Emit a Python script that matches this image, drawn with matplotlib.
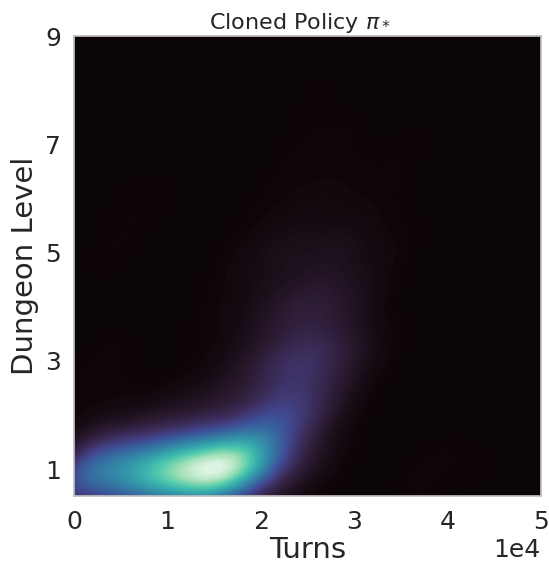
"""Density of dungeon level against turns for the cloned policy."""

import matplotlib

matplotlib.use("Agg")

import matplotlib.pyplot as plt
import seaborn as sns

# Turns, dungeon level and share of games.
turns = [
    500, 3000, 6000, 9000, 11500, 14000, 16000, 18000, 20000, 22000, 25000,
    3000, 10000, 15000, 20000, 23000, 26000,
    3000, 17000, 20500, 23500, 26500, 30000,
    16000, 21000, 25000, 29000,
    4000, 19000, 23000, 28000, 33000,
    5000, 9000, 22000, 27000, 32000,
    24000, 28000, 36000,
    26000,
    38000, 44000,
]
levels = [
    1, 1, 1, 1, 1, 1, 1, 1, 1, 1, 1,
    2, 2, 2, 2, 2, 2,
    3, 3, 3, 3, 3, 3,
    4, 4, 4, 4,
    5, 5, 5, 5, 5,
    6, 6, 6, 6, 6,
    7, 7, 7,
    8,
    1, 1,
]
shares = [
    4.5, 5.5, 7.0, 8.5, 8.5, 9.5, 8.5, 7.0, 4.0, 1.5, 1.0,
    0.4, 1.0, 1.6, 3.0, 3.6, 1.8,
    0.3, 0.6, 1.4, 3.0, 2.4, 1.0,
    0.3, 1.1, 2.2, 1.2,
    0.2, 0.5, 1.0, 1.1, 0.4,
    0.12, 0.15, 0.3, 0.45, 0.25,
    0.15, 0.25, 0.15,
    0.14,
    0.3, 0.15,
]

x_ticks = [0, 10000, 20000, 30000, 40000, 50000]
y_ticks = [1, 3, 5, 7, 9]

sns.set_theme(style="white", font_scale=1.0)

fig, ax = plt.subplots(figsize=(5.49, 5.64), dpi=100)
mako = sns.color_palette("mako", as_cmap=True)
ax.set_facecolor(mako(0))
sns.kdeplot(
    x=turns,
    y=levels,
    weights=shares,
    ax=ax,
    fill=True,
    thresh=0,
    levels=100,
    cmap=mako,
    cut=20,
    gridsize=200,
    bw_method=0.36,
    clip=((0, 50000), (0.5, 9)),
)

ax.set_xlim(0, 50000)
ax.set_ylim(0.5, 9)
ax.set_xticks(x_ticks)
ax.set_yticks(y_ticks)
ax.ticklabel_format(axis="x", style="sci", scilimits=(4, 4))
ax.xaxis.get_offset_text().set_fontsize(18)
ax.tick_params(labelsize=18)
ax.set_xlabel("Turns", fontsize=21, labelpad=2)
ax.set_ylabel("Dungeon Level", fontsize=21, labelpad=4)
ax.set_title(r"Cloned Policy $\pi_*$", fontsize=16, pad=5, x=0.483)
for spine in ax.spines.values():
    spine.set_color("0.75")

fig.subplots_adjust(left=0.135, right=0.985, top=0.936, bottom=0.12)
fig.savefig("out.png", dpi=100)
plt.close(fig)
